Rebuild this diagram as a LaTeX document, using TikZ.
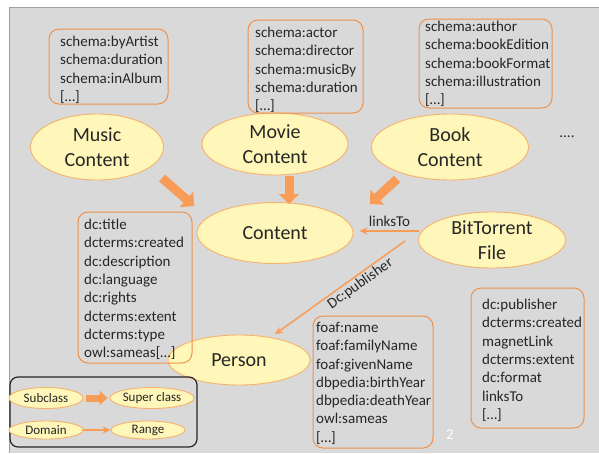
\documentclass[tikz,border=0pt]{standalone}
\usepackage{fontspec}
\setmainfont{Carlito}
\usetikzlibrary{shapes.geometric,arrows.meta,calc}
\definecolor{bg}{HTML}{D9D9D9}
\definecolor{ellfill}{HTML}{FFF6B9}
\definecolor{elldraw}{HTML}{F6B26B}
\definecolor{boxdraw}{HTML}{F0914A}
\definecolor{arr}{HTML}{F89C58}
\definecolor{txt}{HTML}{262626}
\begin{document}
\begin{tikzpicture}[x=1pt,y=-1pt,
  ell/.style={ellipse, draw=elldraw, fill=ellfill, line width=0.9pt, inner sep=-10pt, align=center, text=txt, font=\fontsize{20}{24.5}\selectfont},
  lell/.style={ellipse, draw=elldraw, fill=ellfill, line width=0.9pt, inner sep=-6pt, text=txt, font=\fontsize{13}{15}\selectfont},
  pbox/.style={rectangle, draw=boxdraw, line width=1pt, rounded corners=10pt, inner sep=0pt},
  plist/.style={anchor=north west, inner sep=0pt, align=left, text=txt, font=\fontsize{15}{18.3}\selectfont},
  fatarr/.style={draw=arr, line width=9pt, -{Triangle[width=20pt,length=10pt]}},
  smallfat/.style={draw=arr, line width=7pt, -{Triangle[width=14pt,length=8pt]}},
  thinarr/.style={draw=arr, line width=1.5pt, -{Stealth[length=8pt,width=7pt]}},
  lbl/.style={text=txt, inner sep=1.5pt, font=\fontsize{15}{18}\selectfont},
]
\useasboundingbox (0,0) rectangle (599,453);
\fill[white] (0,0) rectangle (599,453);
\fill[bg] (9,7) rectangle (599,453);
\draw[gray!75, line width=0.8pt] (9,453) -- (9,7) -- (599,7);

% ellipses
\node[ell, minimum width=133, minimum height=66] (music) at (97,147) {Music\\Content};
\node[ell, minimum width=146, minimum height=62] (movie) at (275,144) {Movie\\Content};
\node[ell, minimum width=157, minimum height=66] (book) at (450,147) {Book\\Content};
\node[ell, minimum width=156, minimum height=61] (content) at (275,233) {Content};
\node[ell, minimum width=147, minimum height=56] (bt) at (492,240) {BitTorrent\\File};
\node[ell, minimum width=142, minimum height=50] (person) at (239,360) {Person};

% property boxes
\node[pbox, minimum width=119, minimum height=75] (musicbox) at (108.5,66.5) {};
\node[plist] (musictext) at (60,36) {schema:byArtist\\schema:duration\\schema:inAlbum\\{[…]}};
\node[pbox, minimum width=115, minimum height=93] (moviebox) at (305.5,66.5) {};
\node[plist] (movietext) at (255,27) {schema:actor\\schema:director\\schema:musicBy\\schema:duration\\{[…]}};
\node[pbox, minimum width=133, minimum height=89] (bookbox) at (485.5,63.5) {};
\node[plist] (booktext) at (425,21) {schema:author\\schema:bookEdition\\schema:bookFormat\\schema:illustration\\{[…]}};
\node[pbox, minimum width=114, minimum height=151] (dcbox) at (135,287.5) {};
\node[plist] (dctext) at (84,219) {dc:title\\dcterms:created\\dc:description\\dc:language\\dc:rights\\dcterms:extent\\dcterms:type\\owl:sameas{[…]}};
\node[pbox, minimum width=120, minimum height=132] (foafbox) at (373,382) {};
\node[plist] (foaftext) at (316,322) {foaf:name\\foaf:familyName\\foaf:givenName\\dbpedia:birthYear\\dbpedia:deathYear\\owl:sameas\\{[…]}};
\node[pbox, minimum width=113, minimum height=140] (pubbox) at (527.5,358) {};
\node[plist] (pubtext) at (482,299) {dc:publisher\\dcterms:created\\magnetLink\\dcterms:extent\\dc:format\\linksTo\\{[…]}};

% subclass arrows
\coordinate (mA) at (162,178); \coordinate (mB) at (194,206);
\coordinate (vA) at (289,176); \coordinate (vB) at (289,204);
\coordinate (bA) at (397,179); \coordinate (bB) at (370,204);
\draw[fatarr] (mA) -- (mB);
\draw[fatarr] (vA) -- (vB);
\draw[fatarr] (bA) -- (bB);

% properties
\coordinate (lt) at (419,231);
\draw[thinarr, shorten >=6pt] (lt) -- node[lbl, above=2pt, pos=0.45] (linkslbl) {linksTo} (lt -| content.east);
\coordinate (ps) at (405,241);
\draw[thinarr, shorten >=5pt] (ps) -- node[lbl, sloped, below, pos=0.37] (publbl) {Dc:publisher} (person);

\node[lbl] (dots) at (567,137) {....};
\node[lbl, text=white] (pagenum) at (450,435) {2};

% legend
\node[rectangle, draw=black!85, line width=1.2pt, rounded corners=8pt, minimum width=187, minimum height=70] (legend) at (103.5,412) {};
\node[lell, minimum width=74, minimum height=21] (sub) at (46,398) {Subclass};
\node[lell, minimum width=84, minimum height=21] (sup) at (152,398) {Super class};
\node[lell, minimum width=74, minimum height=18] (dom) at (46,430) {Domain};
\node[lell, minimum width=74, minimum height=18] (rng) at (148,430) {Range};
\draw[smallfat, shorten <=3pt, shorten >=2pt] (sub) -- (sup);
\draw[thinarr] (dom) -- (rng);
\end{tikzpicture}
\end{document}
